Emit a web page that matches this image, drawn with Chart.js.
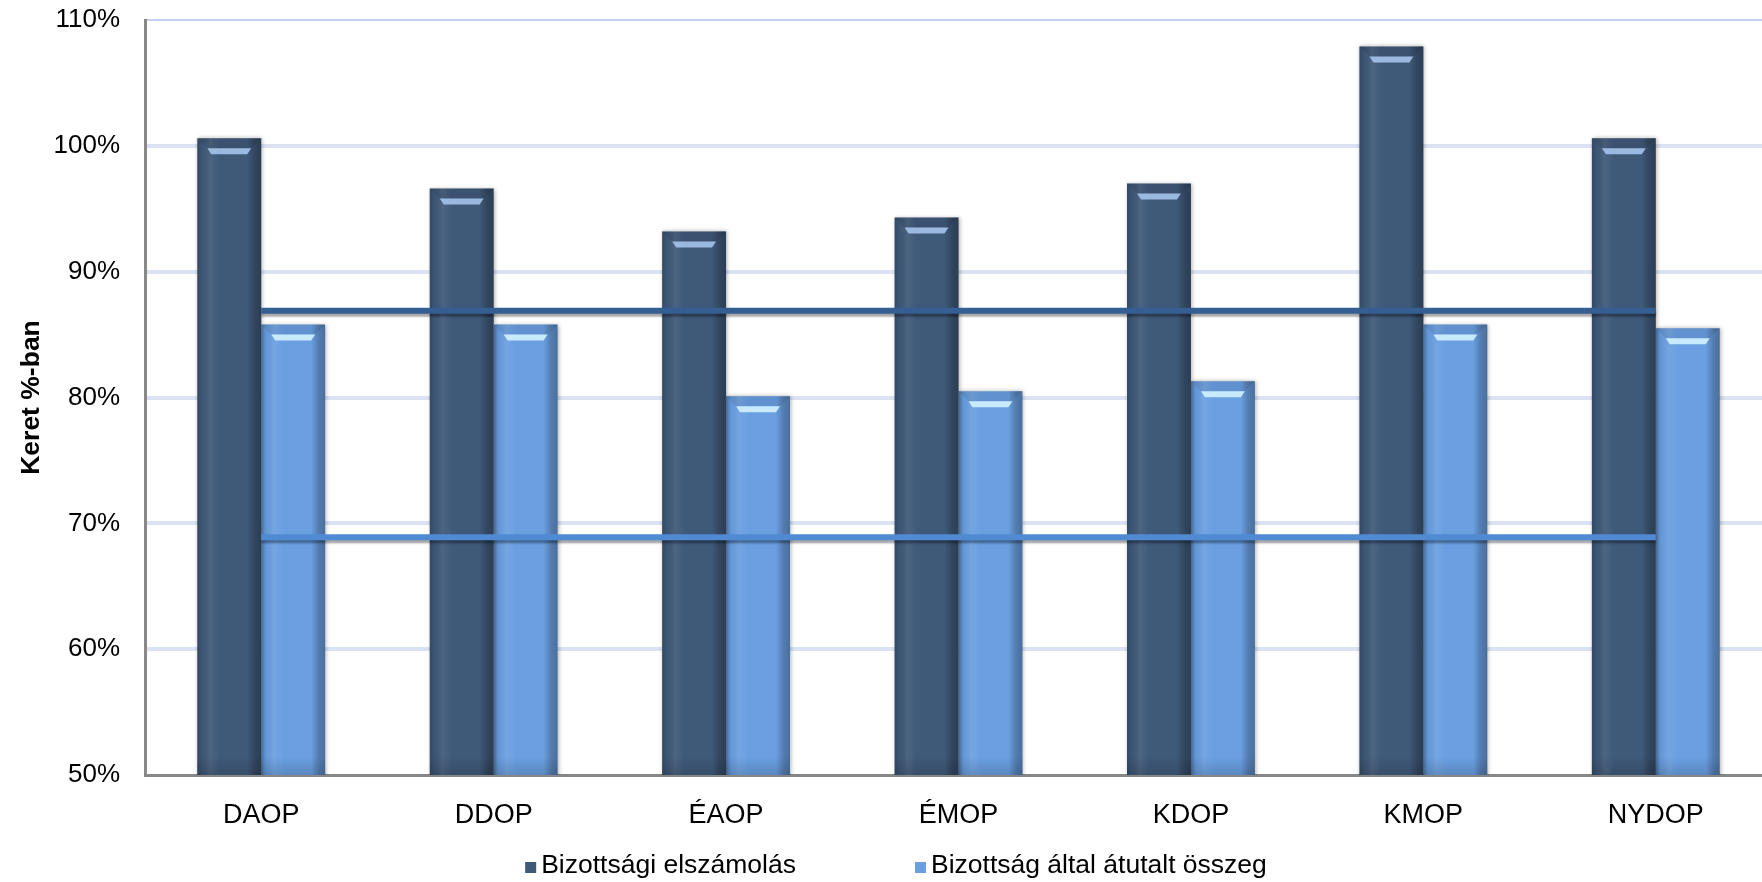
<!DOCTYPE html>
<html>
<head>
<meta charset="utf-8">
<script src="https://cdn.jsdelivr.net/npm/chart.js@4.4.1/dist/chart.umd.min.js"></script>
<style>
    html, body { margin: 0; padding: 0; background: #fff; overflow: hidden; }
</style>
</head>
<body>
<canvas id="keretChart" width="1772" height="882"></canvas>
<script>
// Operatív programok
const categories = ["DAOP", "DDOP", "ÉAOP", "ÉMOP", "KDOP", "KMOP", "NYDOP"];

// Keret %-ban (leolvasott értékek)
const bizottsagiElszamolas = [100.6, 96.6, 93.2, 94.3, 97.0, 107.9, 100.6];
const bizottsagAtutalt = [85.8, 85.8, 80.1, 80.5, 81.3, 85.8, 85.5];

// vízszintes szintvonalak
const elszamolasSzint = [86.9, 86.9, 86.9, 86.9, 86.9, 86.9, 86.9];
const atutaltSzint = [68.9, 68.9, 68.9, 68.9, 68.9, 68.9, 68.9];

// tengely
const yMin = 50;
const yMax = 110;
const yStep = 10;

const FONT = '"Liberation Sans", Arial, sans-serif';

// árnyék + domború hatás a hasábokra
const bevelPlugin = {
    id: "bevel",
    beforeDatasetDraw(chart, args) {
        const ctx = chart.ctx;
        ctx.save();
        if (args.meta.type === "line") {
            ctx.shadowColor = "rgba(0, 0, 0, 0.35)";
            ctx.shadowOffsetY = 3;
            ctx.shadowBlur = 2;
        } else {
            ctx.shadowColor = "rgba(0, 0, 0, 0.3)";
            ctx.shadowBlur = 4;
            ctx.shadowOffsetX = 1;
        }
    },
    afterDatasetDraw(chart, args) {
        const ctx = chart.ctx;
        ctx.restore();
        if (args.meta.type !== "bar") return;
        const hi = chart.data.datasets[args.index].highlight;
        const area = chart.chartArea;
        args.meta.data.forEach((bar) => {
            const { x, y, width, base } = bar.getProps(["x", "y", "width", "base"], true);
            const l = x - width / 2;
            const r = x + width / 2;
            const bottom = Math.min(base, area.bottom);
            const h = bottom - y;
            ctx.save();
            const g = ctx.createLinearGradient(l, 0, r, 0);
            g.addColorStop(0, "rgba(0,0,0,0.18)");
            g.addColorStop(0.08, "rgba(0,0,0,0.04)");
            g.addColorStop(0.2, "rgba(255,255,255,0.07)");
            g.addColorStop(0.35, "rgba(255,255,255,0)");
            g.addColorStop(0.78, "rgba(0,0,0,0)");
            g.addColorStop(0.9, "rgba(0,0,0,0.22)");
            g.addColorStop(1, "rgba(0,0,0,0.3)");
            ctx.fillStyle = g;
            ctx.fillRect(l, y, width, h);

            const b = 10;
            ctx.fillStyle = "rgba(0,0,0,0.08)";
            ctx.beginPath();
            ctx.moveTo(l, y);
            ctx.lineTo(r, y);
            ctx.lineTo(r - b, y + b);
            ctx.lineTo(l + b, y + b);
            ctx.closePath();
            ctx.fill();

            ctx.fillStyle = hi;
            ctx.beginPath();
            ctx.moveTo(l + b, y + b);
            ctx.lineTo(r - b, y + b);
            ctx.lineTo(r - b - 4, y + b + 6);
            ctx.lineTo(l + b + 4, y + b + 6);
            ctx.closePath();
            ctx.fill();

            const bg = ctx.createLinearGradient(0, bottom - 18, 0, bottom);
            bg.addColorStop(0, "rgba(0,0,0,0)");
            bg.addColorStop(1, "rgba(0,0,0,0.14)");
            ctx.fillStyle = bg;
            ctx.fillRect(l, bottom - 18, width, 18);
            ctx.restore();
        });
    },
};

// jelmagyarázat alul, kis négyzetekkel
const bottomLegend = {
    id: "bottomLegend",
    afterDraw(chart) {
        const ctx = chart.ctx;
        const items = chart.data.datasets.filter((d) => d.type !== "line");
        const box = 11, gap = 5, itemGap = 119;
        ctx.save();
        ctx.font = "26.5px " + FONT;
        ctx.textBaseline = "middle";
        ctx.textAlign = "left";
        const widths = items.map((d) => ctx.measureText(d.label).width);
        const total = widths.reduce((a, w) => a + box + gap + w, 0) + itemGap * (items.length - 1);
        let x = chart.width / 2 + 10 - total / 2;
        const y = 866;
        items.forEach((d, i) => {
            ctx.fillStyle = d.backgroundColor;
            ctx.fillRect(x, y - 4, box, box);
            ctx.fillStyle = "#000";
            ctx.fillText(d.label, x + box + gap, y);
            x += box + gap + widths[i] + itemGap;
        });
        ctx.restore();
    },
};

new Chart(document.getElementById("keretChart").getContext("2d"), {
    type: "bar",
    data: {
        labels: categories,
        datasets: [
            {
                type: "line",
                label: "Bizottsági elszámolás szint",
                data: elszamolasSzint,
                borderColor: "#355f92",
                borderWidth: 6,
                pointRadius: 0,
                order: 0,
            },
            {
                type: "line",
                label: "Bizottság által átutalt szint",
                data: atutaltSzint,
                borderColor: "#508ad3",
                borderWidth: 6,
                pointRadius: 0,
                order: 0,
            },
            {
                label: "Bizottsági elszámolás",
                data: bizottsagiElszamolas,
                backgroundColor: "#3f5979",
                highlight: "rgba(165, 195, 235, 0.9)",
                borderWidth: 0,
                categoryPercentage: 0.55,
                barPercentage: 1.0,
                order: 1,
            },
            {
                label: "Bizottság által átutalt összeg",
                data: bizottsagAtutalt,
                backgroundColor: "#6a9fe1",
                highlight: "rgba(205, 238, 255, 0.95)",
                borderWidth: 0,
                categoryPercentage: 0.55,
                barPercentage: 1.0,
                order: 1,
            },
        ],
    },
    options: {
        responsive: false,
        animation: false,
        layout: {
            padding: { top: 20, right: 0, bottom: 55, left: 0 },
        },
        plugins: {
            legend: { display: false },
            tooltip: { enabled: false },
        },
        scales: {
            x: {
                grid: { display: false },
                border: { display: true, color: "#888888", width: 3 },
                ticks: {
                    color: "#000",
                    padding: 16,
                    font: { family: FONT, size: 27 },
                },
                afterFit(scale) {
                    scale.height = 52;
                },
            },
            y: {
                min: yMin,
                max: yMax,
                ticks: {
                    stepSize: yStep,
                    color: "#000",
                    padding: 25,
                    font: { family: FONT, size: 26 },
                    callback: (v) => v + "%",
                },
                grid: {
                    drawTicks: false,
                    color: (c) => (c.tick && c.tick.value === yMin ? "rgba(0,0,0,0)" : c.tick && c.tick.value === yMax ? "#c3d1ee" : "#dae2f3"),
                    lineWidth: (c) => (c.tick && c.tick.value === yMax ? 2 : 4),
                },
                border: { display: true, color: "#888888", width: 3 },
                title: {
                    display: true,
                    text: "Keret %-ban",
                    color: "#000",
                    padding: { top: 16, bottom: 0 },
                    font: { family: FONT, size: 26.5, weight: "bold" },
                },
                afterFit(scale) {
                    scale.width = 145;
                    scale.paddingTop = 0;
                    scale.paddingBottom = 0;
                },
            },
        },
    },
    plugins: [bevelPlugin, bottomLegend],
});
</script>
</body>
</html>
